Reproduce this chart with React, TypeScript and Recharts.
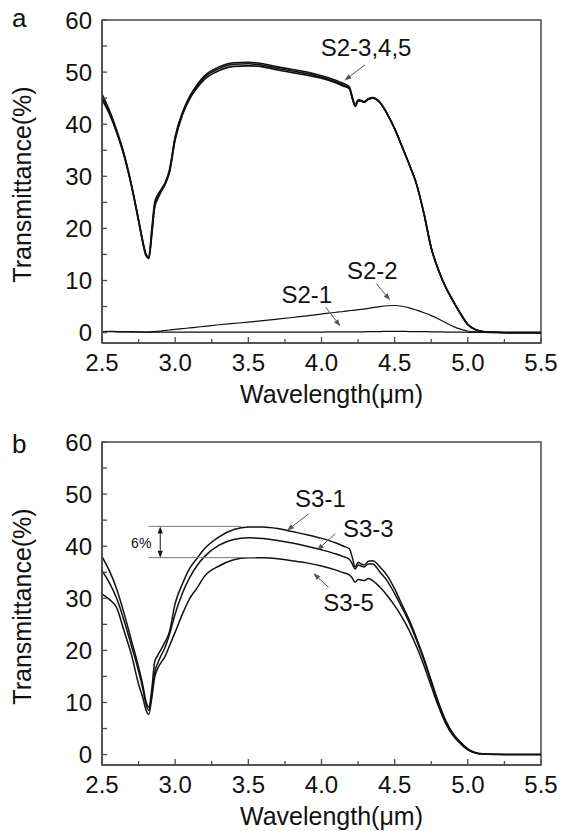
import React from "react";
import { LineChart, Line, XAxis, YAxis, ReferenceLine, ReferenceArea } from "recharts";

// wavelength grid (µm) shared by both panels
const wavelength = [
  2.5, 2.55, 2.6, 2.65, 2.7, 2.75, 2.78, 2.8, 2.82, 2.84,
  2.86, 2.88, 2.9, 2.93, 2.96, 3.0, 3.05, 3.1, 3.15, 3.2,
  3.3, 3.4, 3.5, 3.6, 3.7, 3.8, 3.9, 4.0, 4.1, 4.15,
  4.19, 4.21, 4.23, 4.25, 4.27, 4.29, 4.32, 4.35, 4.4, 4.45,
  4.5, 4.55, 4.6, 4.65, 4.7, 4.75, 4.8, 4.85, 4.9, 4.95,
  5.0, 5.05, 5.1, 5.2, 5.3, 5.4, 5.5,
];

// panel a
const s2_3 = [
  45.8, 42.7, 38.9, 34.4, 28.6, 21.7, 17.4, 15.1, 14.5, 19.8,
  25.0, 26.4, 27.3, 28.7, 31.1, 37.6, 42.3, 45.4, 47.6, 49.3,
  51.0, 51.8, 51.9, 51.6, 51.0, 50.5, 50.0, 49.3, 48.4, 47.8,
  47.2, 45.3, 43.7, 44.7, 44.6, 44.3, 44.9, 45.1, 44.2, 42.0,
  39.2, 35.8, 32.3, 28.5, 22.9, 16.3, 12.0, 8.7, 6.1, 3.7,
  1.6, 0.6, 0.2, 0.05, 0, 0, 0,
];
const s2_4 = [
  44.7, 42.0, 38.4, 34.0, 28.3, 21.4, 17.1, 14.8, 14.2, 19.2,
  24.0, 25.6, 26.8, 28.4, 30.6, 37.0, 41.8, 44.9, 47.0, 48.6,
  50.3, 51.1, 51.2, 51.0, 50.4, 49.9, 49.4, 48.8, 47.9, 47.3,
  46.8, 45.0, 43.4, 44.4, 44.5, 44.2, 44.8, 45.0, 44.1, 41.9,
  39.1, 35.7, 32.2, 28.4, 22.8, 16.2, 11.9, 8.6, 6.0, 3.6,
  1.5, 0.6, 0.2, 0.05, 0, 0, 0,
];
const s2_5 = [
  45.2, 42.3, 38.6, 34.2, 28.4, 21.5, 17.2, 14.9, 14.3, 18.6,
  24.4, 26.0, 27.0, 28.5, 30.8, 37.3, 42.0, 45.1, 47.3, 49.0,
  50.7, 51.5, 51.6, 51.3, 50.7, 50.2, 49.7, 49.0, 48.1, 47.5,
  46.9, 45.1, 43.5, 44.5, 44.5, 44.2, 44.8, 45.0, 44.1, 41.9,
  39.1, 35.7, 32.2, 28.4, 22.8, 16.2, 11.9, 8.6, 6.0, 3.6,
  1.5, 0.6, 0.2, 0.05, 0, 0, 0,
];
const s2_2 = [
  0.2, 0.2, 0.15, 0.15, 0.1, 0.1, 0.1, 0.1, 0.1, 0.15,
  0.2, 0.25, 0.3, 0.4, 0.5, 0.6, 0.75, 0.9, 1.05, 1.2,
  1.5, 1.75, 2.0, 2.3, 2.6, 2.9, 3.2, 3.55, 3.9, 4.05,
  4.2, 4.25, 4.3, 4.4, 4.45, 4.5, 4.65, 4.8, 5.0, 5.15,
  5.2, 5.05, 4.75, 4.3, 3.8, 3.25, 2.6, 1.9, 1.2, 0.65,
  0.3, 0.12, 0.05, 0, 0, 0, 0,
];
const s2_1 = [
  0.2, 0.25, 0.2, 0.15, 0.2, 0.15, 0.1, 0.1, 0.1, 0.1,
  0.1, 0.1, 0.1, 0.1, 0.1, 0.1, 0.1, 0.1, 0.1, 0.1,
  0.1, 0.1, 0.1, 0.1, 0.1, 0.1, 0.1, 0.1, 0.15, 0.15,
  0.15, 0.15, 0.15, 0.15, 0.15, 0.15, 0.2, 0.2, 0.2, 0.25,
  0.25, 0.25, 0.2, 0.2, 0.2, 0.15, 0.15, 0.1, 0.1, 0.1,
  0.05, 0.05, 0.05, 0, 0, 0, 0,
];

// panel b
const s3_1 = [
  38.0, 35.3, 31.8, 27.2, 22.0, 16.8, 13.2, 10.3, 9.1, 12.5,
  17.8, 19.0, 20.0, 21.6, 23.5, 29.0, 32.8, 35.8, 37.7, 39.5,
  41.8, 43.2, 43.7, 43.7, 43.4, 42.8, 42.2, 41.5, 40.6, 40.0,
  39.5, 37.9, 36.0, 36.9, 36.6, 36.4, 37.1, 37.2, 36.0, 34.3,
  31.8, 28.8, 25.8, 22.3, 18.5, 14.2, 10.0, 6.5, 4.0, 2.4,
  1.1, 0.4, 0.15, 0.05, 0, 0, 0,
];
const s3_3 = [
  35.3, 33.0, 30.0, 25.8, 21.0, 16.0, 12.5, 9.7, 8.5, 11.5,
  15.8, 17.5, 18.8, 20.5, 23.0, 27.0, 31.0, 34.0, 36.3, 38.0,
  40.2, 41.3, 41.6, 41.5, 41.1, 40.6, 40.0, 39.3, 38.5, 38.0,
  37.5, 36.6, 35.6, 36.4, 36.2, 36.0, 36.6, 36.6, 35.0, 33.3,
  30.9, 28.2, 25.3, 21.9, 18.1, 13.9, 9.7, 6.2, 3.8, 2.2,
  1.0, 0.35, 0.1, 0.05, 0, 0, 0,
];
const s3_5 = [
  30.8, 29.8, 28.2, 23.8, 19.3, 13.5, 10.8, 8.6, 7.7, 10.8,
  14.8, 16.5, 17.5, 18.8, 20.8, 23.5, 27.0, 30.0, 32.0, 34.2,
  36.2, 37.4, 37.8, 37.8, 37.6, 37.2, 36.8, 36.2, 35.4, 34.9,
  34.5, 33.9, 33.1, 33.6, 33.5, 33.4, 33.8, 33.4, 32.1, 30.5,
  28.6, 26.4, 23.8, 20.7, 17.1, 13.1, 9.2, 5.9, 3.6, 2.1,
  0.9, 0.3, 0.1, 0.03, 0, 0, 0,
];

const xTicks = [2.5, 2.75, 3.0, 3.25, 3.5, 3.75, 4.0, 4.25, 4.5, 4.75, 5.0, 5.25, 5.5];
const xTickLabels = ["2.5", "", "3.0", "", "3.5", "", "4.0", "", "4.5", "", "5.0", "", "5.5"];
const yTicks = [0, 5, 10, 15, 20, 25, 30, 35, 40, 45, 50, 55, 60];
const yTickLabels = ["0", "", "10", "", "20", "", "30", "", "40", "", "50", "", "60"];

// annotation arrows: label, arrow tail, arrow head (data coords), text offset from tail (px)
const notesA = [
  { text: "S2-3,4,5", from: [4.298, 51.4], to: [4.157, 48.4], dx: 1, dy: -9 },
  { text: "S2-2", from: [4.374, 9.4], to: [4.469, 6.2], dx: -4, dy: -5 },
  { text: "S2-1", from: [4.029, 4.9], to: [4.128, 1.2], dx: -19, dy: -4 },
];
const notesB = [
  { text: "S3-1", from: [3.911, 46.2], to: [3.764, 43.0], dx: 12, dy: -7 },
  { text: "S3-3", from: [4.094, 42.4], to: [3.969, 39.2], dx: 33, dy: 3 },
  { text: "S3-5", from: [4.048, 32.1], to: [3.945, 34.8], dx: 20, dy: 24 },
];

const FONT = "'Liberation Sans', Arial, Helvetica, sans-serif";
const AXIS = "#4a4a4a";
const INK = "#111";
const ARROW = "#555";

const XTick = (props: any) => {
  const { x, y, payload } = props;
  const label = xTickLabels[xTicks.indexOf(payload.value)] || "";
  const major = label !== "";
  return (
    <g>
      <line x1={x} y1={y} x2={x} y2={y - (major ? 6 : 4)} stroke={AXIS} strokeWidth={1.3} />
      {major && (
        <text x={x} y={y + 27.5} textAnchor="middle" fontSize={24} fontFamily={FONT} fill={INK}>
          {label}
        </text>
      )}
    </g>
  );
};

const YTick = (props: any) => {
  const { x, y, payload } = props;
  const label = yTickLabels[yTicks.indexOf(payload.value)] || "";
  return (
    <g>
      <line x1={x} y1={y} x2={x + 5} y2={y} stroke={AXIS} strokeWidth={1.3} />
      {label !== "" && (
        <text x={x - 10} y={y + 8.5} textAnchor="end" fontSize={24} fontFamily={FONT} fill={INK}>
          {label}
        </text>
      )}
    </g>
  );
};

const YTitle = (props: any) => {
  const { viewBox, letter, letterDy } = props;
  const cx = viewBox.x + 31;
  const cy = viewBox.y + viewBox.height / 2 + 3;
  return (
    <g>
      <text
        transform={`translate(${cx},${cy}) rotate(-90)`}
        textAnchor="middle"
        fontSize={25}
        fontFamily={FONT}
        fill={INK}
      >
        Transmittance(%)
      </text>
      <text x={viewBox.x + 12} y={viewBox.y + letterDy} fontSize={26} fontFamily={FONT} fill={INK}>
        {letter}
      </text>
    </g>
  );
};

const makeArrow = (text: string, dx: number, dy: number) => (p: any) => {
  const x1 = Number(p.x1), y1 = Number(p.y1), x2 = Number(p.x2), y2 = Number(p.y2);
  const a = Math.atan2(y2 - y1, x2 - x1);
  const L = 7, W = 2.6;
  const bx = x2 - L * Math.cos(a), by = y2 - L * Math.sin(a);
  const pts = `${x2},${y2} ${bx - W * Math.sin(a)},${by + W * Math.cos(a)} ${bx + W * Math.sin(a)},${by - W * Math.cos(a)}`;
  return (
    <g>
      <line x1={x1} y1={y1} x2={bx} y2={by} stroke={ARROW} strokeWidth={1} />
      <polygon points={pts} fill={ARROW} />
      <text x={x1 + dx} y={y1 + dy} textAnchor="middle" fontSize={24} fontFamily={FONT} fill={INK}>
        {text}
      </text>
    </g>
  );
};

const doubleArrow = (p: any) => {
  const x = Number(p.x1), y1 = Number(p.y1), y2 = Number(p.y2);
  const L = 7, W = 2.6;
  return (
    <g>
      <line x1={x} y1={y1 + L} x2={x} y2={y2 - L} stroke={INK} strokeWidth={1} />
      <polygon points={`${x},${y1} ${x - W},${y1 + L} ${x + W},${y1 + L}`} fill={INK} />
      <polygon points={`${x},${y2} ${x - W},${y2 - L} ${x + W},${y2 - L}`} fill={INK} />
      <text x={x - 19} y={(y1 + y2) / 2 + 6} textAnchor="middle" fontSize={14} fontFamily={FONT} fill={INK}>
        6%
      </text>
    </g>
  );
};

type Note = { text: string; from: number[]; to: number[]; dx: number; dy: number };

const Panel = ({ series, notes, letter, letterDy, extra }: {
  series: { key: string; values: number[]; width: number }[];
  notes: Note[];
  letter: string;
  letterDy: number;
  extra?: React.ReactNode;
}) => {
  const data = wavelength.map((w, i) => {
    const row: any = { w };
    series.forEach((s) => (row[s.key] = s.values[i]));
    return row;
  });
  return (
    <LineChart width={562} height={409} data={data} margin={{ top: 20, right: 21, left: 0, bottom: 0 }}>
      <XAxis
        dataKey="w"
        type="number"
        domain={[2.5, 5.5]}
        ticks={xTicks}
        interval={0}
        tickSize={0}
        tickMargin={0}
        tick={<XTick />}
        axisLine={{ stroke: AXIS, strokeWidth: 1.5 }}
        height={66}
        allowDataOverflow
        label={{ value: "Wavelength(\u03bcm)", position: "insideBottom", offset: 6, dx: 10, fontSize: 25, fontFamily: FONT, fill: INK }}
      />
      <YAxis
        type="number"
        domain={[-2, 60]}
        ticks={yTicks}
        interval={0}
        tickSize={0}
        tickMargin={0}
        tick={<YTick />}
        axisLine={{ stroke: AXIS, strokeWidth: 1.5 }}
        width={102}
        allowDataOverflow
        label={<YTitle letter={letter} letterDy={letterDy} />}
      />
      <ReferenceArea x1={2.5} x2={5.5} y1={-2} y2={60} fill="none" stroke={AXIS} strokeWidth={1.5} />
      {series.map((s) => (
        <Line
          key={s.key}
          dataKey={s.key}
          type="monotone"
          stroke={INK}
          strokeWidth={s.width}
          dot={false}
          isAnimationActive={false}
        />
      ))}
      {extra}
      {notes.map((n) => (
        <ReferenceLine
          key={n.text}
          segment={[{ x: n.from[0], y: n.from[1] }, { x: n.to[0], y: n.to[1] }]}
          shape={makeArrow(n.text, n.dx, n.dy)}
        />
      ))}
    </LineChart>
  );
};

export default function App() {
  return (
    <div style={{ position: "absolute", left: 0, top: 0, width: 562, height: 831, background: "#fff" }}>
      <div style={{ position: "absolute", left: 0, top: 0 }}>
        <Panel
          letter="a"
          letterDy={7}
          notes={notesA}
          series={[
            { key: "s2_1", values: s2_1, width: 1.2 },
            { key: "s2_2", values: s2_2, width: 1.2 },
            { key: "s2_3", values: s2_3, width: 1.6 },
            { key: "s2_4", values: s2_4, width: 1.6 },
            { key: "s2_5", values: s2_5, width: 1.6 },
          ]}
        />
      </div>
      <div style={{ position: "absolute", left: 0, top: 422 }}>
        <Panel
          letter="b"
          letterDy={11}
          notes={notesB}
          series={[
            { key: "s3_1", values: s3_1, width: 1.5 },
            { key: "s3_3", values: s3_3, width: 1.5 },
            { key: "s3_5", values: s3_5, width: 1.5 },
          ]}
          extra={[
            <ReferenceLine key="hi" segment={[{ x: 2.818, y: 43.8 }, { x: 3.45, y: 43.8 }]} stroke="#777" strokeWidth={1} />,
            <ReferenceLine key="lo" segment={[{ x: 2.818, y: 37.8 }, { x: 3.55, y: 37.8 }]} stroke="#777" strokeWidth={1} />,
            <ReferenceLine key="gap" segment={[{ x: 2.898, y: 43.8 }, { x: 2.898, y: 37.8 }]} shape={doubleArrow} />,
          ]}
        />
      </div>
    </div>
  );
}
